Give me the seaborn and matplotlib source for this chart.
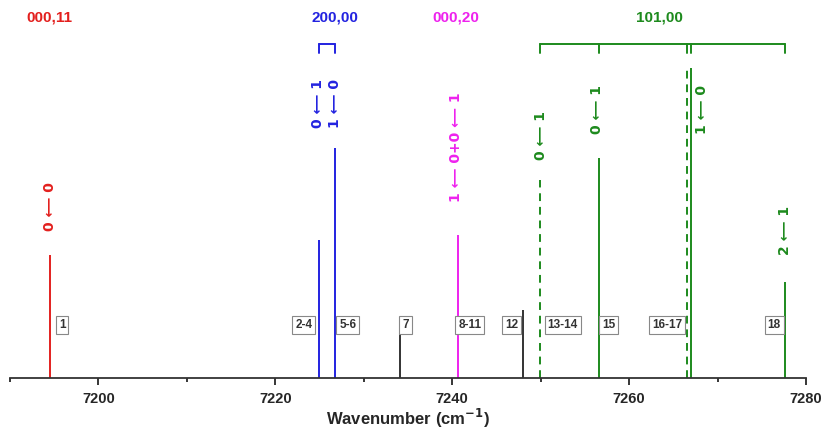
import numpy as np
import pandas as pd
import matplotlib
matplotlib.use('Agg')
import matplotlib.pyplot as plt
import seaborn as sns

# stick spectrum, intensities in arbitrary units
wavenumber = [7194.5, 7224.9, 7226.8, 7234.1, 7240.6, 7248.0, 7249.9, 7256.6, 7266.5, 7267.0, 7277.6]
intensity = [123, 138, 230, 45, 143, 68, 198, 220, 310, 310, 96]
band = ['000,11', '200,00', '200,00', 'none', '000,20', 'none',
        '101,00', '101,00', '101,00', '101,00', '101,00']
dashed = [False, False, False, False, False, False, True, False, True, False, False]

transitions = ['0 \u27f5 0', '0 \u27f5 1', '1 \u27f5 0', '1 \u27f5 0+0 \u27f5 1',
               '0 \u27f5 1', '0 \u27f5 1', '1 \u27f5 0', '2 \u27f5 1']
transition_x = [7194.5, 7224.8, 7226.8, 7240.4, 7250.0, 7256.4, 7268.2, 7277.6]
transition_y = [171, 275, 275, 231, 243, 268, 268, 148]
transition_band = ['000,11', '200,00', '200,00', '000,20', '101,00', '101,00', '101,00', '101,00']

peak_ids = ['1', '2-4', '5-6', '7', '8-11', '12', '13-14', '15', '16-17', '18']
peak_id_x = [7195.9, 7223.2, 7228.2, 7234.7, 7242.0, 7246.7, 7252.5, 7257.7, 7264.3, 7276.4]

band_names = ['000,11', '200,00', '000,20', '101,00']
band_label_x = [7194.5, 7226.7, 7240.4, 7263.4]

colors = {'000,11': '#e3201e', '200,00': '#2323e0', '000,20': '#ee22ee',
          '101,00': '#1d8a1d', 'none': '#333333'}

df = pd.DataFrame({'wavenumber': wavenumber, 'intensity': intensity,
                   'band': band, 'dashed': dashed})

sns.set_style('white')
plt.rcParams['font.family'] = ['Liberation Sans', 'DejaVu Sans']

fig = plt.figure(figsize=(8.24, 4.30), dpi=100)
ax = fig.add_axes([10 / 824, 52 / 430, 796 / 824, 378 / 430])

for _, row in df.iterrows():
  ax.vlines(row['wavenumber'], 0, row['intensity'], color=colors[row['band']],
            lw=1.4, linestyles=(0, (4, 3)) if row['dashed'] else 'solid')

for text, x, y, b in zip(transitions, transition_x, transition_y, transition_band):
  ax.text(x, y, text, rotation=90, ha='center', va='center', color=colors[b],
          fontsize=10, fontweight='bold', family=['DejaVu Sans'])

for text, x in zip(peak_ids, peak_id_x):
  ax.text(x, 53, text, ha='center', va='center', fontsize=8.5, fontweight='bold',
          color='#333333',
          bbox=dict(boxstyle='square,pad=0.25', fc='white', ec='#888888', lw=0.8))

for name, x in zip(band_names, band_label_x):
  ax.text(x, 360, name, ha='center', va='center', color=colors[name],
          fontsize=11, fontweight='bold')

# brackets grouping the lines of each band
def bracket(xs, color):
  ax.plot([min(xs), max(xs)], [334, 334], color=color, lw=1.4, clip_on=False)
  for x in xs:
    ax.plot([x, x], [334, 325], color=color, lw=1.4, clip_on=False)

bracket([7224.9, 7226.8], colors['200,00'])
bracket([7249.9, 7256.6, 7266.5, 7267.0, 7277.6], colors['101,00'])

ax.set_xlim(7190, 7280)
ax.set_ylim(0, 378)
ax.set_xticks(np.arange(7200, 7281, 20))
ax.set_xticks(np.arange(7190, 7281, 10), minor=True)
ax.tick_params(axis='x', which='major', direction='out', length=5, width=1.3,
               bottom=True, labelsize=10.5, pad=5)
ax.tick_params(axis='x', which='minor', direction='out', length=3, width=1.3, bottom=True)
for lab in ax.get_xticklabels():
  lab.set_fontweight('bold')
ax.set_yticks([])
sns.despine(ax=ax, left=True, top=True, right=True)
ax.spines['bottom'].set_linewidth(1.3)
ax.spines['bottom'].set_color('#333333')
ax.set_xlabel('Wavenumber (cm$^{\\mathbf{-1}}$)', fontsize=12, fontweight='bold', labelpad=1)

fig.savefig('out.png', dpi=100)
